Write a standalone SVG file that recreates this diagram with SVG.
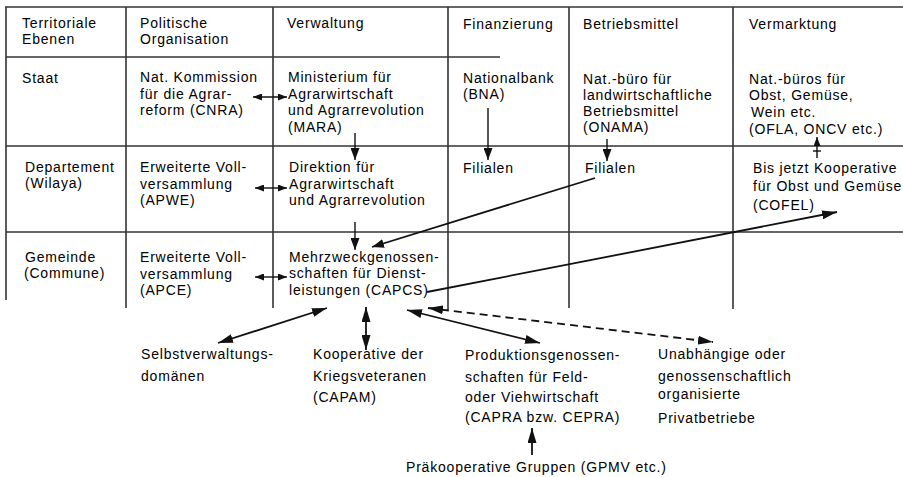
<svg xmlns="http://www.w3.org/2000/svg" width="903" height="477" viewBox="0 0 903 477">
<style>
text{font-family:"Liberation Sans",Arial,sans-serif;font-size:14px;letter-spacing:0.8px;fill:#000}
.g{stroke:#333;stroke-width:1.6;fill:none}
.a{stroke:#111;stroke-width:1.8;fill:none}
.t{stroke:#111;stroke-width:1.4;fill:none}
.d{stroke-dasharray:8 5}
</style>
<defs>
<marker id="big" viewBox="0 0 15 9" refX="15" refY="4.5" markerWidth="15" markerHeight="9" markerUnits="userSpaceOnUse" orient="auto-start-reverse"><path d="M0,0 L15,4.5 L0,9 z" fill="#111"/></marker>
<marker id="med" viewBox="0 0 12 9" refX="12" refY="4.5" markerWidth="12" markerHeight="9" markerUnits="userSpaceOnUse" orient="auto-start-reverse"><path d="M0,0 L12,4.5 L0,9 z" fill="#111"/></marker>
<marker id="sm" viewBox="0 0 9 7" refX="9" refY="3.5" markerWidth="9" markerHeight="7" markerUnits="userSpaceOnUse" orient="auto-start-reverse"><path d="M0,0 L9,3.5 L0,7 z" fill="#111"/></marker>
</defs>
<g id="grid">
<line class="g" x1="5" y1="7" x2="903" y2="7"/>
<line class="g" x1="6" y1="7" x2="6" y2="300"/>
<line class="g" x1="126" y1="7" x2="126" y2="308"/>
<line class="g" x1="273" y1="7" x2="273" y2="308"/>
<line class="g" x1="448" y1="7" x2="448" y2="310"/>
<line class="g" x1="569" y1="7" x2="569" y2="308"/>
<line class="g" x1="733" y1="7" x2="733" y2="309"/>
<line class="g" x1="6" y1="57" x2="500" y2="57"/>
<line class="g" x1="6" y1="146" x2="903" y2="146"/>
<line class="g" x1="6" y1="232" x2="903" y2="232"/>
</g>
<g id="headers">
<text x="22" y="28">Territoriale</text><text x="22" y="44">Ebenen</text>
<text x="140" y="28">Politische</text><text x="140" y="44">Organisation</text>
<text x="287" y="28">Verwaltung</text>
<text x="463" y="29">Finanzierung</text>
<text x="583" y="29">Betriebsmittel</text>
<text x="749" y="29">Vermarktung</text>
</g>
<g id="levels">
<text x="22" y="83">Staat</text>
<text x="25" y="172">Departement</text><text x="25" y="188">(Wilaya)</text>
<text x="25" y="262">Gemeinde</text><text x="24" y="278">(Commune)</text>
</g>
<g id="cnra"><text x="140" y="82">Nat. Kommission</text><text x="140" y="99">für die Agrar-</text><text x="140" y="115">reform (CNRA)</text></g>
<g id="mara"><text x="288" y="82">Ministerium für</text><text x="288" y="99">Agrarwirtschaft</text><text x="288" y="115">und Agrarrevolution</text><text x="288" y="132">(MARA)</text></g>
<g id="bna"><text x="463" y="83">Nationalbank</text><text x="463" y="99">(BNA)</text></g>
<g id="onama"><text x="583" y="84">Nat.-büro für</text><text x="583" y="100">landwirtschaftliche</text><text x="583" y="116">Betriebsmittel</text><text x="583" y="132">(ONAMA)</text></g>
<g id="ofla"><text x="749" y="84">Nat.-büros für</text><text x="749" y="100">Obst, Gemüse,</text><text x="751" y="117">Wein etc.</text><text x="749" y="134">(OFLA, ONCV etc.)</text></g>
<g id="apwe"><text x="140" y="172">Erweiterte Voll-</text><text x="140" y="189">versammlung</text><text x="140" y="205">(APWE)</text></g>
<g id="direktion"><text x="289" y="172">Direktion für</text><text x="289" y="189">Agrarwirtschaft</text><text x="289" y="205">und Agrarrevolution</text></g>
<g id="filialen1"><text x="463" y="173">Filialen</text></g>
<g id="filialen2"><text x="585" y="173">Filialen</text></g>
<g id="cofel"><text x="753" y="173">Bis jetzt Kooperative</text><text x="753" y="191">für Obst und Gemüse</text><text x="753" y="210">(COFEL)</text></g>
<g id="apce"><text x="140" y="262">Erweiterte Voll-</text><text x="140" y="279">versammlung</text><text x="140" y="295">(APCE)</text></g>
<g id="capcs"><text x="289" y="262">Mehrzweckgenossen-</text><text x="289" y="278">schaften für Dienst-</text><text x="289" y="295">leistungen (CAPCS)</text></g>
<g id="selbst"><text x="141" y="359">Selbstverwaltungs-</text><text x="141" y="381">domänen</text></g>
<g id="capam"><text x="313" y="359">Kooperative der</text><text x="313" y="381">Kriegsveteranen</text><text x="313" y="402">(CAPAM)</text></g>
<g id="capra"><text x="465" y="360">Produktionsgenossen-</text><text x="465" y="382">schaften für Feld-</text><text x="465" y="402">oder Viehwirtschaft</text><text x="465" y="422">(CAPRA bzw. CEPRA)</text></g>
<g id="privat"><text x="658" y="359">Unabhängige oder</text><text x="658" y="381">genossenschaftlich</text><text x="658" y="399">organisierte</text><text x="658" y="423">Privatbetriebe</text></g>
<g id="gpmv"><text x="406" y="472">Präkooperative Gruppen (GPMV etc.)</text></g>
<g id="connectors">
<line class="t" x1="253" y1="97" x2="287" y2="97" marker-start="url(#sm)" marker-end="url(#sm)"/>
<line class="t" x1="255" y1="188" x2="287" y2="188" marker-start="url(#sm)" marker-end="url(#sm)"/>
<line class="t" x1="255" y1="277" x2="287" y2="277" marker-start="url(#sm)" marker-end="url(#sm)"/>
<line class="t" x1="355" y1="133" x2="355" y2="160" marker-end="url(#med)"/>
<line class="t" x1="355" y1="222" x2="355" y2="250" marker-end="url(#med)"/>
<line class="t" x1="488" y1="108" x2="488" y2="160" marker-end="url(#med)"/>
<line class="t" x1="607" y1="139" x2="607" y2="161" marker-end="url(#med)"/>
<line class="t" x1="817" y1="158" x2="817" y2="137" marker-end="url(#sm)"/>
<line class="t" x1="813" y1="151" x2="821" y2="151"/>
<line class="a" x1="595" y1="178" x2="372" y2="247" marker-end="url(#med)"/>
<line class="a" x1="427" y1="292" x2="837" y2="212" marker-end="url(#big)"/>
<line class="a" x1="218" y1="343" x2="327" y2="308" marker-start="url(#big)" marker-end="url(#big)"/>
<line class="a" x1="366" y1="307" x2="366" y2="350" marker-start="url(#big)" marker-end="url(#big)"/>
<line class="a" x1="407" y1="310" x2="540" y2="343" marker-start="url(#big)" marker-end="url(#big)"/>
<line class="a d" x1="428" y1="308" x2="713" y2="342" marker-start="url(#big)" marker-end="url(#big)"/>
<line class="a" x1="532" y1="455" x2="532" y2="428" marker-end="url(#big)"/>
</g>
</svg>
